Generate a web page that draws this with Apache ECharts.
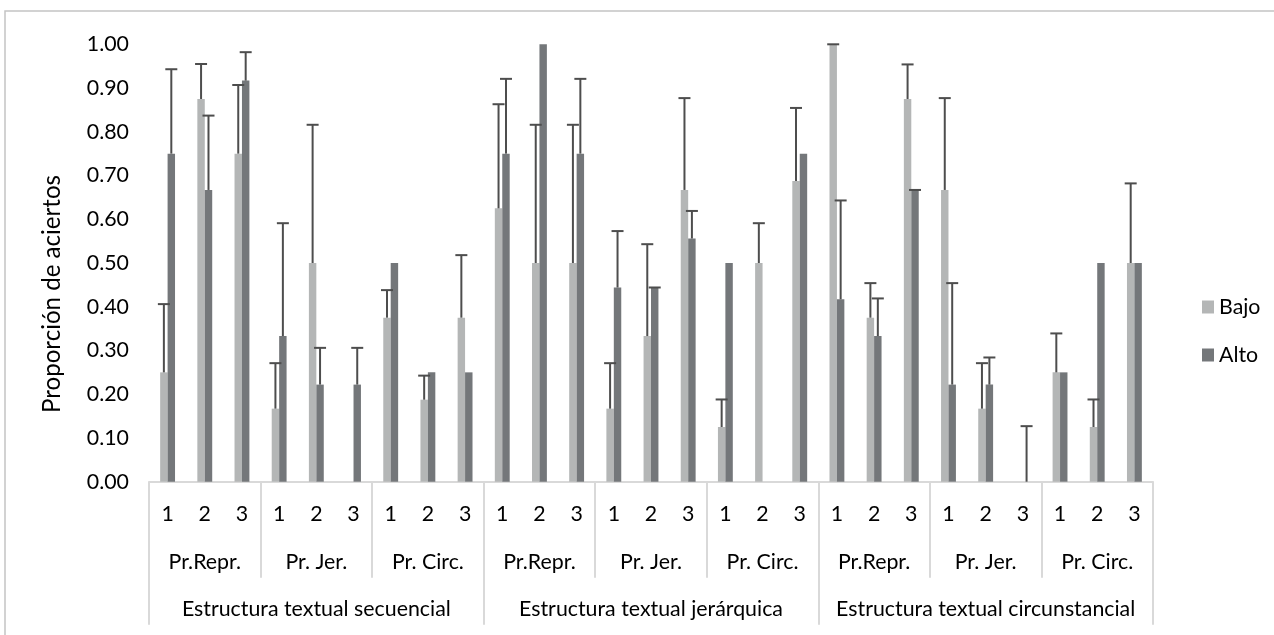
<!DOCTYPE html>
<html><head><meta charset="utf-8">
<script src="https://cdn.jsdelivr.net/npm/echarts@6/dist/echarts.min.js"></script>
<style>html,body{margin:0;padding:0;background:#fff}#c{width:1274px;height:635px}</style>
</head><body><div id="c"></div>
<script>
// ---- data ----
const structures = ['Estructura textual secuencial', 'Estructura textual jerárquica', 'Estructura textual circunstancial'];
const prTypes = ['Pr.Repr.', 'Pr. Jer.', 'Pr. Circ.'];
const items = ['1', '2', '3'];
const seriesNames = ['Bajo', 'Alto'];
const bajo = [0.25, 0.875, 0.75, 0.167, 0.5, 0, 0.375, 0.1875, 0.375,
              0.625, 0.5, 0.5, 0.167, 0.333, 0.667, 0.125, 0.5, 0.6875,
              1.0, 0.375, 0.875, 0.667, 0.167, 0, 0.25, 0.125, 0.5];
const alto = [0.75, 0.667, 0.917, 0.333, 0.222, 0.222, 0.5, 0.25, 0.25,
              0.75, 1.0, 0.75, 0.444, 0.444, 0.556, 0.5, 0, 0.75,
              0.417, 0.333, 0.667, 0.222, 0.222, 0, 0.25, 0.5, 0.5];
// upper error amounts (null = no error bar)
const bajoErr = [0.156, 0.08, 0.157, 0.104, 0.316, null, 0.063, 0.055, 0.143,
                 0.238, 0.316, 0.316, 0.104, 0.21, 0.21, 0.063, 0.091, 0.167,
                 0, 0.079, 0.079, 0.21, 0.104, null, 0.089, 0.063, 0.182];
const altoErr = [0.193, 0.17, 0.065, 0.258, 0.084, 0.084, null, null, null,
                 0.171, null, 0.171, 0.129, 0, 0.063, null, null, null,
                 0.226, 0.086, 0, 0.232, 0.062, 0.127, null, null, null];
const yMin = 0, yMax = 1, yInterval = 0.1;

// ---- derived categories ----
const cat27 = [], cat9 = [];
structures.forEach(s => prTypes.forEach(p => { cat9.push(p); items.forEach(it => cat27.push(it)); }));

// ---- font fitting ----
const FONT = 'Lato';
function fit(text, target, base) {
  const ctx = document.createElement('canvas').getContext('2d');
  ctx.font = base + 'px ' + FONT;
  return base * target / ctx.measureText(text).width;
}
const F = fit('Estructura textual secuencial', 269, 22);
const FT = fit('Proporción de aciertos', 238, 22);

const COLORS = {bajo: '#b4b6b6', alto: '#74777a', err: '#4d4d4d', axis: '#d9d9d9'};

function errSeries(vals, errs, sign) {
  const data = [];
  vals.forEach((v, i) => { if (errs[i] != null) data.push([i, v, v + errs[i]]); });
  return {
    type: 'custom', silent: true, z: 10, xAxisIndex: 0, yAxisIndex: 0,
    data: data, encode: {x: 0, y: [1, 2]},
    renderItem: (params, api) => {
      const i = api.value(0), lo = api.value(1), hi = api.value(2);
      const p0 = api.coord([i, lo]), p1 = api.coord([i, hi]);
      const cw = api.size([1, 0])[0];
      const x = p0[0] + sign * cw * 0.1;
      const h = 6;
      const st = {stroke: COLORS.err, lineWidth: 2};
      return {type: 'group', children: [
        {type: 'line', shape: {x1: x, y1: p0[1], x2: x, y2: p1[1]}, style: st},
        {type: 'line', shape: {x1: x - h, y1: p1[1], x2: x + h, y2: p1[1]}, style: st}
      ]};
    }
  };
}

const chart = echarts.init(document.getElementById('c'), null, {renderer: 'canvas'});
const txt = {fontFamily: FONT, fontSize: F, color: '#000'};
chart.setOption({
  animation: false,
  textStyle: {fontFamily: FONT},
  grid: {left: 149, right: 121, top: 44.3, bottom: 153.3, containLabel: false, outerBoundsMode: 'none'},
  legend: {
    data: seriesNames, orient: 'vertical', left: 1197, top: 289,
    itemWidth: 12, itemHeight: 13, itemGap: 22,
    textStyle: Object.assign({}, txt, {lineHeight: 26}), icon: 'rect'
  },
  xAxis: [
    {type: 'category', data: cat27, gridIndex: 0, position: 'bottom',
     axisLine: {show: true, lineStyle: {color: COLORS.axis, width: 2}},
     axisTick: {show: false},
     axisLabel: Object.assign({interval: 0, margin: 22}, txt)},
    {type: 'category', data: cat9, gridIndex: 0, position: 'bottom',
     axisLine: {show: false},
     axisTick: {show: true, interval: 0, length: 96, lineStyle: {color: COLORS.axis, width: 2}},
     axisLabel: Object.assign({interval: 0, margin: 70}, txt)},
    {type: 'category', data: structures, gridIndex: 0, position: 'bottom',
     axisLine: {show: false},
     axisTick: {show: true, interval: 0, length: 143, lineStyle: {color: COLORS.axis, width: 2}},
     axisLabel: Object.assign({interval: 0, margin: 117}, txt)}
  ],
  yAxis: {
    type: 'value', min: yMin, max: yMax, interval: yInterval,
    axisLine: {show: false}, axisTick: {show: false}, splitLine: {show: false},
    axisLabel: Object.assign({margin: 20, formatter: v => v.toFixed(2)}, txt)
  },
  graphic: [
    {type: 'rect', shape: {x: 5, y: 11, width: 1400, height: 900}, style: {fill: 'none', stroke: '#c4c4c4', lineWidth: 1.5}, silent: true, z: -1},
    {type: 'text', x: 52, y: 294, rotation: Math.PI / 2,
     style: {text: 'Proporción de aciertos', font: FT.toFixed(1) + 'px ' + FONT, fill: '#000', align: 'center', verticalAlign: 'middle'}}
  ],
  series: [
    {name: 'Bajo', type: 'bar', data: bajo, xAxisIndex: 0, barGap: '0%', barCategoryGap: '60%', itemStyle: {color: COLORS.bajo}},
    {name: 'Alto', type: 'bar', data: alto, xAxisIndex: 0, barGap: '0%', barCategoryGap: '60%', itemStyle: {color: COLORS.alto}},
    errSeries(bajo, bajoErr, -1),
    errSeries(alto, altoErr, 1)
  ]
});
</script></body></html>
